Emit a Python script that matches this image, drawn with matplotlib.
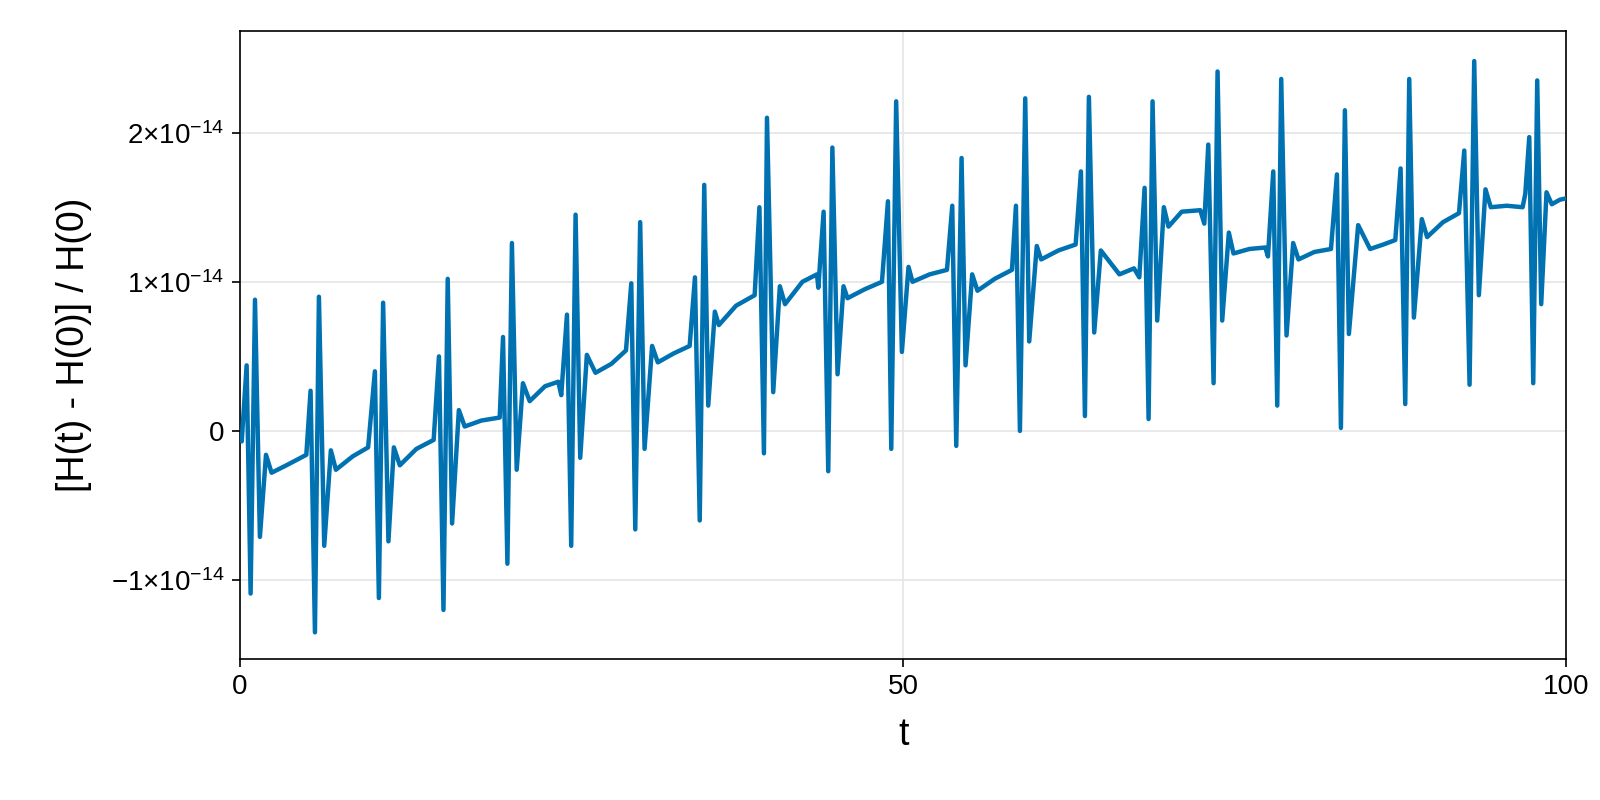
import matplotlib.pyplot as plt
from matplotlib.ticker import FixedLocator

# relative energy error, in units of 1e-14 at the turning points
t = [
    0.0, 0.13,
    0.5, 0.8, 1.13, 1.5, 1.96, 2.38, 3.5, 5.0,
    5.32, 5.65, 5.95, 6.35, 6.85, 7.23, 8.5, 9.66,
    10.17, 10.47, 10.79, 11.19, 11.6, 12.05, 13.3, 14.6,
    15.0, 15.34, 15.66, 15.99, 16.5, 16.94, 18.2, 19.58,
    19.83, 20.16, 20.5, 20.86, 21.33, 21.84, 23.0, 24.0, 24.22,
    24.65, 24.97, 25.3, 25.65, 26.15, 26.8, 28.0, 29.1,
    29.5, 29.8, 30.17, 30.5, 31.07, 31.5, 32.7, 33.9,
    34.3, 34.66, 35.0, 35.3, 35.8, 36.1, 37.4, 38.8,
    39.16, 39.5, 39.73, 40.2, 40.7, 41.09, 42.4, 43.5, 43.6,
    44.0, 44.35, 44.66, 45.05, 45.5, 45.8, 47.1, 48.4,
    48.85, 49.1, 49.47, 49.9, 50.4, 50.7, 52.0, 53.3,
    53.7, 54.0, 54.4, 54.7, 55.2, 55.6, 56.9, 58.2,
    58.5, 58.8, 59.2, 59.5, 60.07, 60.4, 61.7, 63.0,
    63.4, 63.7, 64.0, 64.4, 64.9, 66.3, 67.4, 67.8,
    68.2, 68.5, 68.8, 69.15, 69.65, 70.0, 71.0, 72.4, 72.7,
    73.0, 73.4, 73.7, 74.05, 74.55, 74.9, 76.1, 77.3, 77.5,
    77.9, 78.2, 78.5, 78.9, 79.4, 79.8, 81.0, 82.25,
    82.7, 83.0, 83.3, 83.6, 84.3, 85.2, 86.2, 87.1,
    87.5, 87.85, 88.15, 88.5, 89.1, 89.5, 90.7, 91.9,
    92.3, 92.7, 93.05, 93.4, 93.9, 94.3, 95.5, 96.7, 96.9,
    97.2, 97.5, 97.8, 98.1, 98.5, 98.9, 99.5, 100.0,
]
h = [
    -0.05, -0.07,
    0.44, -1.09, 0.88, -0.71, -0.16, -0.28, -0.23, -0.16,
    0.27, -1.35, 0.90, -0.77, -0.13, -0.26, -0.17, -0.11,
    0.40, -1.12, 0.86, -0.74, -0.11, -0.23, -0.12, -0.06,
    0.50, -1.20, 1.02, -0.62, 0.14, 0.03, 0.07, 0.09,
    0.63, -0.89, 1.26, -0.26, 0.32, 0.20, 0.30, 0.33, 0.24,
    0.78, -0.77, 1.45, -0.18, 0.51, 0.39, 0.45, 0.54,
    0.99, -0.66, 1.40, -0.12, 0.57, 0.46, 0.52, 0.57,
    1.03, -0.60, 1.65, 0.17, 0.80, 0.71, 0.84, 0.91,
    1.50, -0.15, 2.10, 0.26, 0.97, 0.85, 1.00, 1.05, 0.96,
    1.47, -0.27, 1.90, 0.38, 0.97, 0.89, 0.95, 1.00,
    1.54, -0.12, 2.21, 0.53, 1.10, 1.00, 1.05, 1.08,
    1.51, -0.10, 1.83, 0.44, 1.05, 0.94, 1.02, 1.08,
    1.51, 0.00, 2.23, 0.60, 1.24, 1.15, 1.21, 1.25,
    1.74, 0.10, 2.24, 0.66, 1.21, 1.05, 1.09, 1.03,
    1.63, 0.08, 2.21, 0.74, 1.50, 1.37, 1.47, 1.48, 1.39,
    1.92, 0.32, 2.41, 0.74, 1.33, 1.19, 1.22, 1.23, 1.17,
    1.74, 0.17, 2.36, 0.64, 1.26, 1.15, 1.20, 1.22,
    1.72, 0.02, 2.15, 0.65, 1.38, 1.22, 1.25, 1.28,
    1.76, 0.18, 2.36, 0.76, 1.42, 1.30, 1.40, 1.46,
    1.88, 0.31, 2.48, 0.91, 1.62, 1.50, 1.51, 1.50, 1.59,
    1.97, 0.32, 2.35, 0.85, 1.60, 1.52, 1.55, 1.56,
]
h = [v * 1e-14 for v in h]

plt.rcParams["font.family"] = ["Liberation Sans", "DejaVu Sans"]
plt.rcParams["mathtext.fontset"] = "dejavusans"

fig = plt.figure(figsize=(16, 8), dpi=100)
ax = fig.add_axes([0.15, 0.176, 0.829, 0.785])
ax.plot(t, h, color="#0072B2", linewidth=3.2, zorder=3)

ax.set_xlim(0, 100)
ax.set_ylim(-1.53e-14, 2.68e-14)
ax.set_xticks([0, 50, 100])
ax.yaxis.set_major_locator(FixedLocator([-1e-14, 0, 1e-14, 2e-14]))
ax.set_yticklabels([r"$\mathregular{-1{\times}10^{-14}}$", "0",
                    r"$\mathregular{1{\times}10^{-14}}$", r"$\mathregular{2{\times}10^{-14}}$"])
ax.tick_params(labelsize=20, length=6, width=1.2, direction="out", pad=5)
ax.grid(color="#e5e5e5", linewidth=1.2, zorder=0)
for s in ax.spines.values():
    s.set_linewidth(1.2)

ax.set_xlabel("t", fontsize=27, labelpad=12)
ax.set_ylabel("[H(t) - H(0)] / H(0)", fontsize=27, labelpad=14)

fig.savefig("out.png", dpi=100)
